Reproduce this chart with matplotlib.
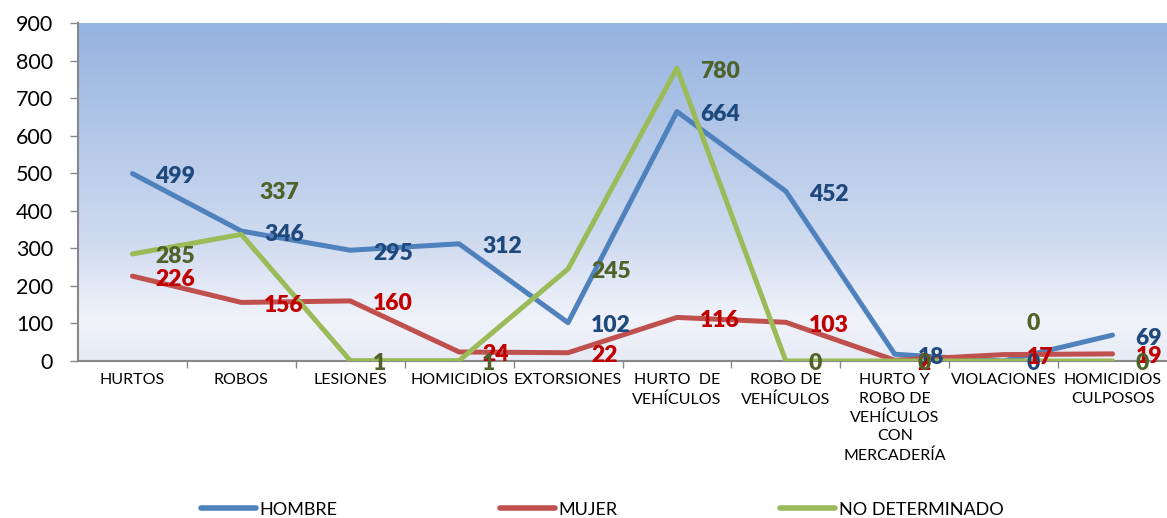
import matplotlib.pyplot as plt
import numpy as np
from matplotlib.colors import LinearSegmentedColormap
from matplotlib.lines import Line2D

# datos
categorias = ['HURTOS', 'ROBOS', 'LESIONES', 'HOMICIDIOS', 'EXTORSIONES',
              'HURTO  DE\nVEHÍCULOS', 'ROBO DE\nVEHÍCULOS',
              'HURTO Y\nROBO DE\nVEHÍCULOS\nCON\nMERCADERÍA',
              'VIOLACIONES', 'HOMICIDIOS\nCULPOSOS']
hombre = [499, 346, 295, 312, 102, 664, 452, 18, 0, 69]
mujer = [226, 156, 160, 24, 22, 116, 103, 2, 17, 19]
no_det = [285, 337, 1, 1, 245, 780, 0, 0, 0, 0]
y_ticks = [0, 100, 200, 300, 400, 500, 600, 700, 800, 900]

series = [('HOMBRE', hombre, '#4F81BD', '#1F497D'),
          ('MUJER', mujer, '#C0504D', '#C00000'),
          ('NO DETERMINADO', no_det, '#9BBB59', '#4F6228')]

# etiquetas movidas a mano (serie, indice) -> desplazamiento en pixeles
mover = {(2, 1): (18, 45), (2, 8): (23, 40)}

plt.rcParams['font.family'] = ['Lato', 'DejaVu Sans']

W, H = 1167, 518
fig = plt.figure(figsize=(W / 100, H / 100), dpi=100)
ax = fig.add_axes([78 / W, 1 - 361 / H, 1 - 78 / W, 338 / H])

x = np.arange(len(categorias))
ax.set_xlim(-0.5, len(categorias) - 0.5)
ax.set_ylim(0, 900)

# fondo degradado
cmap = LinearSegmentedColormap.from_list('fondo', [
    (0.0, '#E6EBF6'), (0.12, '#F1F3FA'), (0.35, '#D0DBF0'), (1.0, '#95B3E0')])
grad = np.linspace(0, 1, 256).reshape(-1, 1)
ax.imshow(grad, cmap=cmap, origin='lower', aspect='auto', extent=[0, 1, 0, 1],
          transform=ax.transAxes, zorder=0)

for k, (nombre, vals, col, lcol) in enumerate(series):
    ax.plot(x, vals, color=col, lw=3.6, solid_joinstyle='round',
            solid_capstyle='round', zorder=3 + k)

for k, (nombre, vals, col, lcol) in enumerate(series):
    for i, v in enumerate(vals):
        dx, dy = mover.get((k, i), (23, 0))
        ax.annotate(str(v), (x[i], v), xytext=(dx, dy - 3), textcoords='offset pixels',
                    ha='left', va='center', fontsize=16.5, fontweight='heavy',
                    color=lcol, zorder=10)

for s in ['top', 'right']:
    ax.spines[s].set_visible(False)
for s in ['left', 'bottom']:
    ax.spines[s].set_color('#888888')
    ax.spines[s].set_linewidth(1.5)
    ax.spines[s].set_zorder(2)

ax.set_yticks(y_ticks)
ax.tick_params(axis='y', length=6, width=1, color='#888888', labelsize=15.5, pad=12)
ax.set_xticks(x)
ax.set_xticklabels(categorias, fontsize=11.5, linespacing=1.4)
ax.set_xticks(np.arange(0.5, len(categorias) - 0.5, 1), minor=True)
ax.tick_params(axis='x', which='major', length=0, pad=9)
ax.tick_params(axis='x', which='minor', length=5, width=1, color='#888888')

handles = [Line2D([], [], color=c, lw=4, solid_capstyle='round') for _, _, c, _ in series]
fig.legend(handles, [s[0] for s in series], loc='center', bbox_to_anchor=(0.516, 0.016),
           ncol=3, frameon=False, fontsize=13, handlelength=3.05, handletextpad=0.2,
           columnspacing=9.0, borderpad=0)

fig.savefig('out.png', dpi=100)
